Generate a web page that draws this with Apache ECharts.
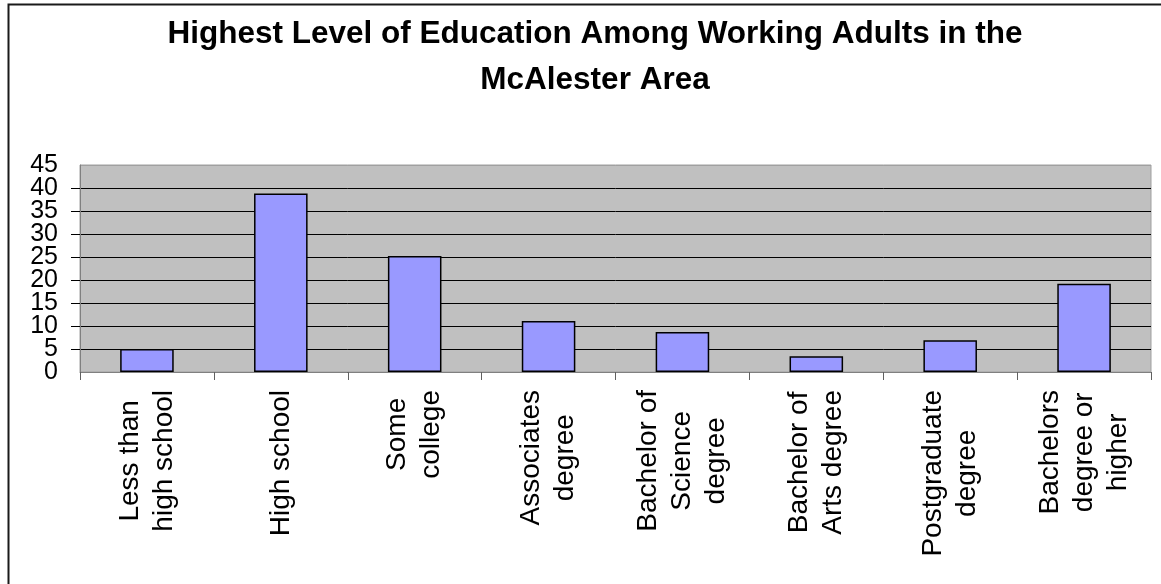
<!DOCTYPE html>
<html>
<head>
<meta charset="utf-8">
<title>Highest Level of Education Among Working Adults in the McAlester Area</title>
<script src="https://cdn.jsdelivr.net/npm/echarts@6/dist/echarts.min.js"></script>
<style>
  html, body { margin: 0; padding: 0; background: #ffffff; }
  #chart { width: 1161px; height: 584px; }
</style>
</head>
<body>
<div id="chart"></div>
<script>
// Education categories (line breaks mark how each label wraps)
const categories = [
  'Less than\nhigh school',
  'High school',
  'Some\ncollege',
  'Associates\ndegree',
  'Bachelor of\nScience\ndegree',
  'Bachelor of\nArts degree',
  'Postgraduate\ndegree',
  'Bachelors\ndegree or\nhigher'
];

// Share of working adults for each level
const values = [5.0, 38.8, 25.2, 11.1, 8.7, 3.4, 6.9, 19.2];

// Value axis ticks
const yTicks = [0, 5, 10, 15, 20, 25, 30, 35, 40, 45];
const Y_MIN = yTicks[0];
const Y_MAX = yTicks[yTicks.length - 1];
const Y_STEP = yTicks[1] - yTicks[0];

const titleLines = ['Highest Level of Education Among Working Adults in the', 'McAlester Area'];

const FONT = '"Liberation Sans", Arial, Helvetica, sans-serif';

const chart = echarts.init(document.getElementById('chart'), null, { renderer: 'canvas' });

// gridlines are black, the top one blends with the plot frame
const splitColors = yTicks.map((t, i) => (i === yTicks.length - 1 ? '#a0a0a0' : '#000000'));

const yLabelStyle = {
  margin: 22,
  color: '#000000',
  fontFamily: FONT,
  fontSize: 25
};

chart.setOption({
  animation: false,
  backgroundColor: '#ffffff',
  title: {
    text: titleLines.join('\n'),
    left: 590,
    top: 6,
    textAlign: 'center',
    textStyle: {
      fontFamily: FONT,
      fontSize: 31.5,
      fontWeight: 'bold',
      color: '#000000',
      lineHeight: 46
    }
  },
  graphic: [
    {
      type: 'rect',
      left: 6,
      top: 2,
      shape: { width: 1200, height: 700 },
      style: { fill: 'none', stroke: '#1a1a1a', lineWidth: 2 },
      silent: true,
      z: 100
    }
  ],
  grid: {
    left: 80,
    right: 10,
    top: 165,
    bottom: 212,
    show: true,
    backgroundColor: '#c0c0c0',
    borderColor: '#a0a0a0',
    borderWidth: 1
  },
  xAxis: {
    type: 'category',
    data: categories,
    boundaryGap: true,
    axisLine: { show: true, lineStyle: { color: '#808080', width: 1 } },
    axisTick: { show: true, alignWithLabel: false, length: 8, lineStyle: { color: '#606060' } },
    axisLabel: {
      interval: 0,
      rotate: 90,
      margin: 18,
      hideOverlap: false,
      color: '#000000',
      fontFamily: FONT,
      fontSize: 28,
      lineHeight: 34,
      formatter: function (v) {
        return v.split('\n').map(function (l) { return '{c|' + l + '}'; }).join('\n');
      },
      rich: {
        c: {
          align: 'center',
          fontFamily: FONT,
          fontSize: 28,
          lineHeight: 34,
          color: '#000000'
        }
      }
    },
    splitLine: { show: false }
  },
  yAxis: [
    {
      // main value axis: line, ticks, gridlines and the inner labels
      type: 'value',
      position: 'left',
      min: Y_MIN,
      max: Y_MAX,
      interval: Y_STEP,
      axisLine: { show: true, lineStyle: { color: '#808080', width: 1 } },
      axisTick: { show: true, length: 9, lineStyle: { color: '#000000' } },
      axisLabel: Object.assign({ showMinLabel: false, showMaxLabel: false }, yLabelStyle),
      splitLine: { show: true, lineStyle: { color: splitColors, width: 1 } }
    },
    {
      // same scale, carries only the end labels (0 and 45)
      type: 'value',
      position: 'left',
      offset: 0,
      min: Y_MIN,
      max: Y_MAX,
      interval: Y_STEP,
      axisLine: { show: false },
      axisTick: { show: false },
      splitLine: { show: false },
      axisLabel: Object.assign({
        showMinLabel: true,
        showMaxLabel: true,
        formatter: function (v) { return (v === Y_MIN || v === Y_MAX) ? String(v) : ''; }
      }, yLabelStyle)
    }
  ],
  series: [
    {
      type: 'bar',
      yAxisIndex: 0,
      data: values,
      barCategoryGap: '60%',
      itemStyle: {
        color: '#9999ff',
        borderColor: '#000000',
        borderWidth: 1.5
      }
    }
  ]
});
</script>
</body>
</html>
